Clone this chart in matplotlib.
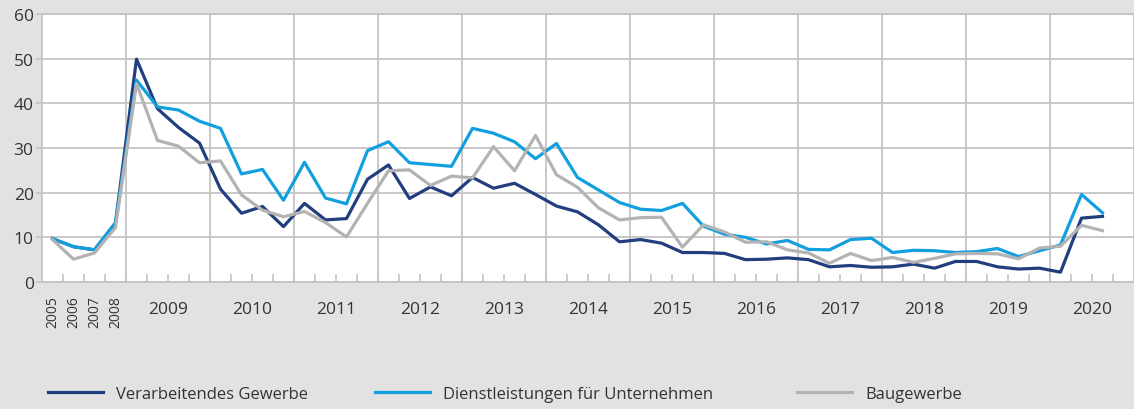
import matplotlib.pyplot as plt
import numpy as np

plt.rcParams['font.family'] = ['Open Sans', 'DejaVu Sans']

# 2005-2008 annual, then quarterly from 2009Q1 to 2020Q3
early_years = ['2005', '2006', '2007', '2008']
years = [str(y) for y in range(2009, 2021)]

verarbeitend = [9.7, 7.9, 7.2, 13.2,
                49.9, 38.8, 34.6, 31.1,
                20.8, 15.4, 16.9, 12.4,
                17.6, 13.9, 14.2, 23.0,
                26.2, 18.7, 21.3, 19.3,
                23.4, 21.0, 22.1, 19.6,
                17.0, 15.7, 12.8, 9.0,
                9.5, 8.7, 6.6, 6.6,
                6.4, 5.0, 5.1, 5.4,
                5.0, 3.4, 3.7, 3.3,
                3.4, 4.0, 3.1, 4.6,
                4.6, 3.4, 2.9, 3.1,
                2.2, 14.3, 14.7]

dienstleistungen = [9.7, 7.9, 7.2, 13.3,
                    45.2, 39.2, 38.5, 36.0,
                    34.4, 24.2, 25.2, 18.3,
                    26.8, 18.8, 17.5, 29.4,
                    31.4, 26.7, 26.3, 25.9,
                    34.4, 33.3, 31.4, 27.6,
                    31.0, 23.4, 20.6, 17.8,
                    16.3, 16.0, 17.6, 12.5,
                    10.7, 10.0, 8.5, 9.3,
                    7.3, 7.2, 9.5, 9.8,
                    6.6, 7.1, 7.0, 6.6,
                    6.8, 7.5, 5.7, 7.0,
                    8.3, 19.6, 15.5]

baugewerbe = [9.5, 5.1, 6.5, 12.2,
              44.4, 31.7, 30.4, 26.7,
              27.1, 19.5, 16.1, 14.6,
              15.8, 13.3, 10.1, 17.6,
              24.9, 25.1, 21.6, 23.7,
              23.3, 30.3, 24.9, 32.8,
              24.0, 21.2, 16.6, 13.9,
              14.4, 14.5, 7.8, 12.8,
              11.2, 8.9, 9.0, 7.2,
              6.5, 4.2, 6.4, 4.8,
              5.5, 4.4, 5.3, 6.3,
              6.4, 6.3, 5.2, 7.6,
              8.0, 12.7, 11.5]

dark_blue = '#213f7e'
light_blue = '#129fe0'
grey = '#b3b3b3'
grid_col = '#c4c4c4'
bg = '#e2e2e2'
txt = '#333333'

x = np.arange(len(verarbeitend))
n_slots = len(early_years) + 4 * len(years)

fig = plt.figure(figsize=(11.34, 4.10), dpi=100, facecolor=bg)
ax = fig.add_axes([42 / 1134, 127 / 410, 1 - 42 / 1134, 268 / 410])
ax.set_facecolor('white')

l1, = ax.plot(x, verarbeitend, color=dark_blue, lw=2.3, label='Verarbeitendes Gewerbe', zorder=3)
l2, = ax.plot(x, dienstleistungen, color=light_blue, lw=2.3, label='Dienstleistungen für Unternehmen', zorder=3)
l3, = ax.plot(x, baugewerbe, color=grey, lw=2.3, label='Baugewerbe', zorder=3)

ax.set_xlim(-0.5, n_slots - 0.5)
ax.set_ylim(0, 60)
ax.set_yticks(range(0, 61, 10))
ax.yaxis.grid(True, color=grid_col, lw=1.3)

# year boundaries as vertical grid lines
for b in np.arange(3.5, n_slots - 1, 4):
    ax.axvline(b, color=grid_col, lw=1.3, zorder=1)

for s in ['top', 'right', 'bottom', 'left']:
    ax.spines[s].set_color(grid_col)
    ax.spines[s].set_linewidth(1.3)

# small inward ticks at every slot boundary
ax.set_xticks(np.arange(0.5, n_slots - 0.5, 1), minor=True)
ax.set_xticks([])
ax.tick_params(axis='x', which='minor', direction='in', length=6, color=grid_col, width=1.2)
ax.tick_params(axis='y', length=4, color=grid_col, width=1.2, labelsize=12.5, labelcolor=txt, pad=2)

for i, lab in enumerate(early_years):
    ax.text(i, -3.0, lab, rotation=90, ha='center', va='top', fontsize=10, color=txt)
for j, lab in enumerate(years):
    ax.text(len(early_years) + 4 * j + 1.5, -4.3, lab, ha='center', va='top', fontsize=12.5, color=txt)

# one legend per entry, placed like the original
for line, xpos in [(l1, 48), (l2, 375), (l3, 797)]:
    fig.legend(handles=[line], loc='center left', bbox_to_anchor=(xpos / 1134, 15 / 410),
               frameon=False, fontsize=12, handlelength=3.3, handletextpad=0.8,
               borderpad=0, borderaxespad=0, labelcolor=txt)

fig.savefig('out.png', dpi=100, facecolor=bg)
